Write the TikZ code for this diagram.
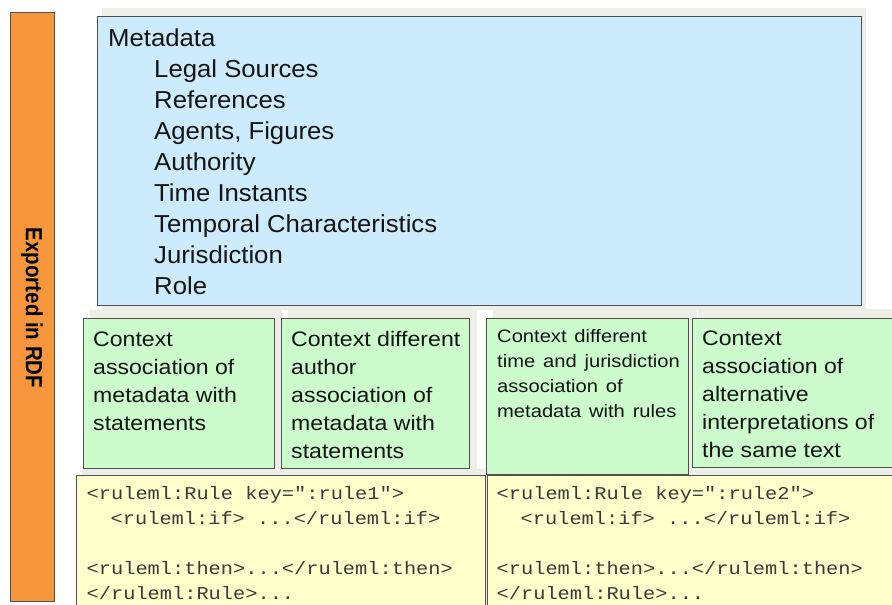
\documentclass[tikz,border=0pt]{standalone}
\usepackage{fontspec}
\setmainfont{Liberation Sans}
\newfontfamily\metafont[FakeStretch=1.05]{Liberation Sans}
\newfontfamily\ctxfont[FakeStretch=1.1]{Liberation Sans}
\newfontfamily\ctxnarrow[FakeStretch=1.12,WordSpace=1.4]{Liberation Sans}
\newfontfamily\codefont[FakeStretch=1.13]{Liberation Mono}
\newfontfamily\rdffont[FakeStretch=0.87]{Liberation Sans}
\definecolor{rdforange}{HTML}{F7963C}
\definecolor{metablue}{HTML}{CCEBFC}
\definecolor{ctxgreen}{HTML}{CCFBCC}
\definecolor{codeyellow}{HTML}{FFFFCC}
\definecolor{edge}{HTML}{505050}
\definecolor{shade}{HTML}{EFEFEA}
\definecolor{codegray}{HTML}{3A3A3A}
\tikzset{
  panel/.style={draw=edge, line width=0.9pt},
  shadow/.style={fill=shade},
  metaline/.style={anchor=base west, inner sep=0pt, font=\metafont\fontsize{24.5}{31}\selectfont, text=black!92},
  ctxline/.style={anchor=base west, inner sep=0pt, font=\ctxfont\fontsize{21}{28}\selectfont, text=black!92},
  ctxsmall/.style={anchor=base west, inner sep=0pt, font=\ctxnarrow\fontsize{18}{25}\selectfont, text=black!92},
  codeline/.style={anchor=base west, inner sep=0pt, font=\codefont\fontsize{18}{25}\selectfont, text=codegray},
}
\begin{document}
\begin{tikzpicture}[x=1pt, y=-1pt]
\useasboundingbox (0,0) rectangle (892,605);
\clip (0,0) rectangle (892,605);

% soft backdrops behind the panels
\fill[shadow] (102,8) rectangle (866,310);
\fill[shadow] (90,310) rectangle (282,472);
\fill[shadow] (288,310) rectangle (477,472);
\fill[shadow] (493,309) rectangle (697,476);
\fill[shadow] (698,309) rectangle (892,472);
\fill[shadow] (82,469) rectangle (492,605);
\fill[shadow] (493,469) rectangle (892,605);

% export bar
\node[panel, fill=rdforange, anchor=north west, minimum width=44pt, minimum height=589pt, inner sep=0pt] (rdf) at (10,12) {};
\node[rotate=-90, inner sep=0pt, font=\rdffont\bfseries\fontsize{23.5}{28}\selectfont] (rdflabel) at (32,308) {Exported in RDF};

% metadata panel
\node[panel, fill=metablue, anchor=north west, minimum width=764pt, minimum height=289pt, inner sep=0pt] (meta) at (97,16) {};
\node[metaline] (metatitle) at (108,46.5) {Metadata};
\foreach \t [count=\i from 1] in {Legal Sources, References, {Agents, Figures}, Authority, Time Instants, Temporal Characteristics, Jurisdiction, Role}
  \node[metaline] (metaitem\i) at (154,46.5+31*\i) {\t};

% context panels
\node[panel, fill=ctxgreen, anchor=north west, minimum width=191pt, minimum height=150pt, inner sep=0pt] (ctxa) at (83,318) {};
\node[panel, fill=ctxgreen, anchor=north west, minimum width=188pt, minimum height=150pt, inner sep=0pt] (ctxb) at (281,318) {};
\node[panel, fill=ctxgreen, anchor=north west, minimum width=202pt, minimum height=156pt, inner sep=0pt] (ctxc) at (486,318) {};
\node[panel, fill=ctxgreen, anchor=north west, minimum width=210pt, minimum height=149pt, inner sep=0pt] (ctxd) at (692,318) {};

\foreach \t [count=\i from 0] in {Context, association of, metadata with, statements}
  \node[ctxline] (ctxatext\i) at (93,346+28*\i) {\t};
\foreach \t [count=\i from 0] in {Context different, author, association of, metadata with, statements}
  \node[ctxline] (ctxbtext\i) at (291,346+28*\i) {\t};
\foreach \t [count=\i from 0] in {Context different, time and jurisdiction, association of, metadata with rules}
  \node[ctxsmall] (ctxctext\i) at (497,342.5+25*\i) {\t};
\foreach \t [count=\i from 0] in {Context, association of, alternative, interpretations of, the same text}
  \node[ctxline] (ctxdtext\i) at (702,345.5+28*\i) {\t};

% rule panels
\node[panel, fill=codeyellow, anchor=north west, minimum width=409pt, minimum height=140pt, inner sep=0pt] (rulea) at (76,475) {};
\node[panel, fill=codeyellow, anchor=north west, minimum width=420pt, minimum height=140pt, inner sep=0pt] (ruleb) at (487,475) {};

\node[codeline] (ruleaopen) at (86.5,499) {<ruleml:Rule key=":rule1">};
\node[codeline] (ruleaif) at (110.5,524) {<ruleml:if> ...</ruleml:if>};
\node[codeline] (ruleathen) at (86.5,574) {<ruleml:then>...</ruleml:then>};
\node[codeline] (ruleaclose) at (86.5,599) {</ruleml:Rule>...};

\node[codeline] (rulebopen) at (496.5,499) {<ruleml:Rule key=":rule2">};
\node[codeline] (rulebif) at (520.5,524) {<ruleml:if> ...</ruleml:if>};
\node[codeline] (rulebthen) at (496.5,574) {<ruleml:then>...</ruleml:then>};
\node[codeline] (rulebclose) at (496.5,599) {</ruleml:Rule>...};
\end{tikzpicture}
\end{document}
